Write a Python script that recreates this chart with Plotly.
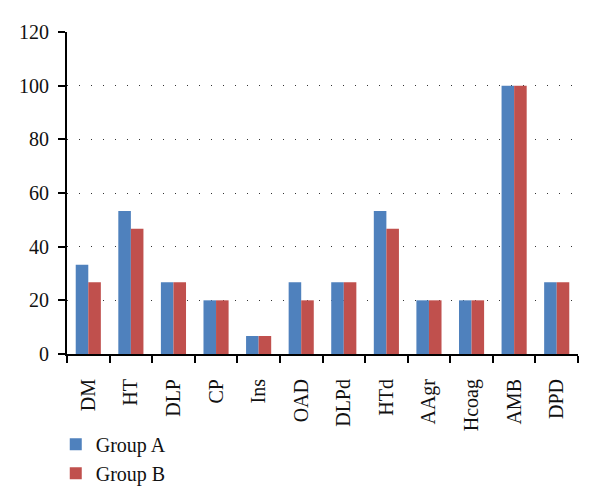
import plotly.graph_objects as go

categories = ["DM", "HT", "DLP", "CP", "Ins", "OAD", "DLPd", "HTd", "AAgr", "Hcoag", "AMB", "DPD"]
group_a = [33.3, 53.3, 26.7, 20, 6.7, 26.7, 26.7, 53.3, 20, 20, 100, 26.7]
group_b = [26.7, 46.7, 26.7, 20, 6.7, 20, 26.7, 46.7, 20, 20, 100, 26.7]
y_ticks = [0, 20, 40, 60, 80, 100, 120]

font_family = "Liberation Serif, Times New Roman, serif"

fig = go.Figure()
fig.add_trace(go.Bar(x=categories, y=group_a, name="Group A", marker=dict(color="#4F81BD", line=dict(width=0))))
fig.add_trace(go.Bar(x=categories, y=group_b, name="Group B", marker=dict(color="#C0504D", line=dict(width=0))))

fig.update_layout(
    width=592, height=493,
    margin=dict(l=59, r=22, t=24, b=147, autoexpand=False),
    paper_bgcolor="white", plot_bgcolor="white",
    barmode="group", bargap=0.41, bargroupgap=0,
    font=dict(family=font_family, size=20, color="#111"),
    showlegend=True,
    legend=dict(x=-0.022, y=-0.22, xanchor="left", yanchor="top", orientation="v",
                font=dict(size=20, family=font_family), itemwidth=30, tracegroupgap=0,
                bgcolor="rgba(0,0,0,0)"),
    xaxis=dict(type="category", showline=True, linecolor="black", linewidth=2,
               ticks="outside", tickson="boundaries", ticklen=7, tickwidth=2, tickcolor="black",
               tickangle=-90, tickfont=dict(size=20, family=font_family), showgrid=False,
               ticklabelstandoff=15),
    yaxis=dict(range=[0, 120], tickvals=y_ticks, showline=True, linecolor="black", linewidth=2,
               ticks="outside", ticklen=7, tickwidth=2, tickcolor="black",
               tickfont=dict(size=20, family=font_family), ticklabelstandoff=5,
               showgrid=True, gridcolor="#333", gridwidth=1, griddash="1px,11px",
               zeroline=False),
)

fig.write_html("out.html")
